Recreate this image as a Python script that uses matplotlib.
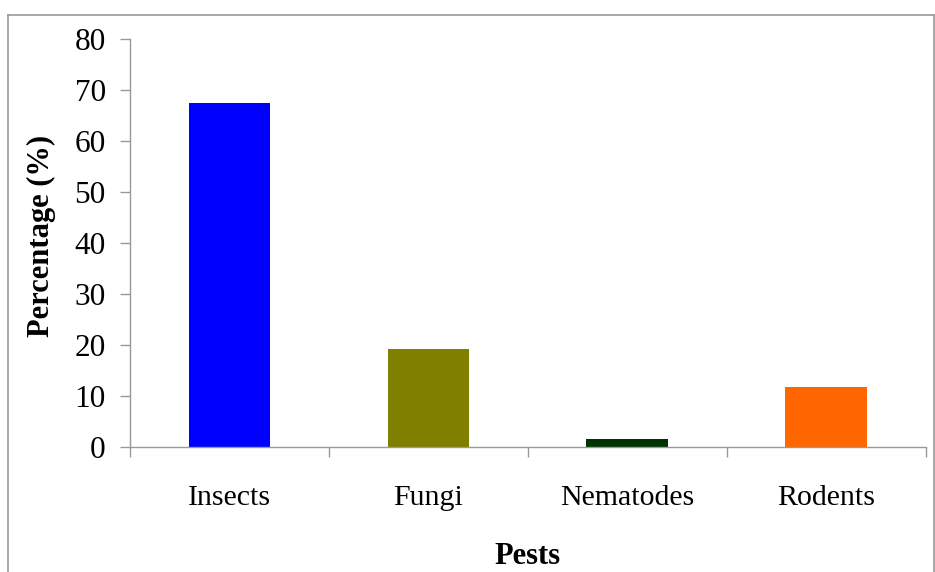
import numpy as np
import matplotlib.pyplot as plt
from matplotlib.lines import Line2D

# data
pests = ['Insects', 'Fungi', 'Nematodes', 'Rodents']
percent = [67.5, 19.2, 1.6, 11.8]
bar_colors = ['#0000FF', '#808000', '#003300', '#FF6600']

plt.rcParams['font.family'] = ['Liberation Serif', 'DejaVu Serif']

fig = plt.figure(figsize=(9.35, 5.72), dpi=100)
ax = fig.add_axes([0.139, 0.2185, 0.851, 0.7135])

x = np.arange(len(pests))
ax.bar(x, percent, width=0.41, color=bar_colors, zorder=2)

ax.set_xlim(-0.5, len(pests) - 0.5)
ax.set_ylim(0, 80)
ax.set_yticks(np.arange(0, 81, 10))

# category labels centred, tick marks on the boundaries
ax.set_xticks(x)
ax.set_xticklabels(pests)
ax.set_xticks(np.arange(-0.5, len(pests), 1), minor=True)
ax.tick_params(axis='x', which='major', length=0, pad=27, labelsize=21.5)
ax.tick_params(axis='x', which='minor', length=7, width=1, color='#999999')
ax.tick_params(axis='y', length=7, width=1, color='#999999', pad=10.5, labelsize=22.5)

for s in ['top', 'right']:
    ax.spines[s].set_visible(False)
for s in ['left', 'bottom']:
    ax.spines[s].set_color('#999999')
    ax.spines[s].set_linewidth(1)

ax.set_ylabel('Percentage (%)', fontsize=22, fontweight='bold', va='center')
ax.yaxis.set_label_coords(-0.111, 0.517)
ax.set_xlabel('Pests', fontsize=22, fontweight='bold')
ax.xaxis.set_label_coords(0.5, -0.232)

# outer frame of the chart area
W, H = 935, 572
fx = lambda px: px / W
fy = lambda py: 1 - py / H
frame_kw = dict(color='#999999', linewidth=1.2, transform=fig.transFigure)
fig.add_artist(Line2D([fx(8), fx(8)], [fy(15), 0], **frame_kw))
fig.add_artist(Line2D([fx(8), fx(934)], [fy(15), fy(15)], **frame_kw))
fig.add_artist(Line2D([fx(934), fx(934)], [fy(15), 0], **frame_kw))

fig.savefig('out.png', dpi=100)
